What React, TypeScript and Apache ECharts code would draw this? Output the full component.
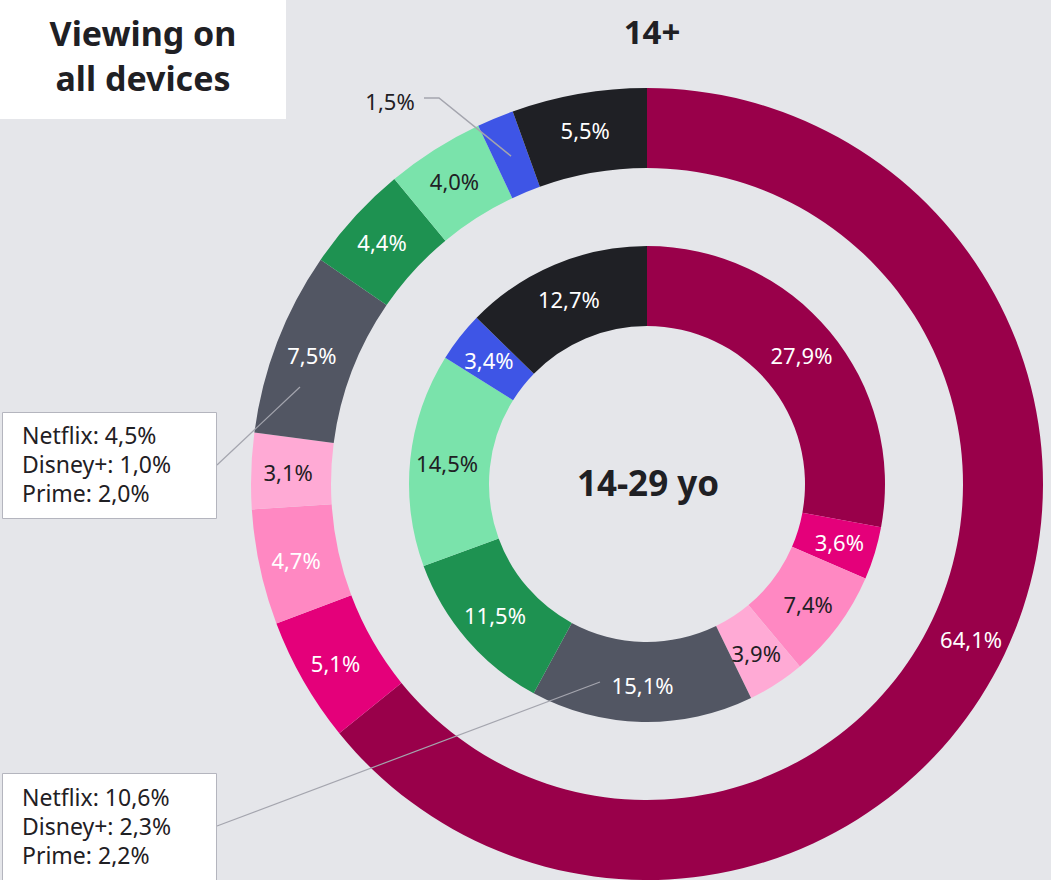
import React, { useEffect, useRef } from "react";
import * as echarts from "echarts";

const categories = ["Cat 1", "Cat 2", "Cat 3", "Cat 4", "Cat 5", "Cat 6", "Cat 7", "Cat 8", "Cat 9"];
const outerValues = [64.1, 5.1, 4.7, 3.1, 7.5, 4.4, 4.0, 1.5, 5.5];
const innerValues = [27.9, 3.6, 7.4, 3.9, 15.1, 11.5, 14.5, 3.4, 12.7];
const colors = ["#99004a", "#e4007a", "#ff88c2", "#ffaad5", "#525663", "#1e9251", "#7ae3ab", "#3e55e6", "#1f2025"];
const outerLabelDark = [false, false, false, true, false, false, true, true, false];
const innerLabelDark = [false, false, true, true, false, false, true, false, false];
const annotationOuter = ["Netflix: 4,5%", "Disney+: 1,0%", "Prime: 2,0%"];
const annotationInner = ["Netflix: 10,6%", "Disney+: 2,3%", "Prime: 2,2%"];
const titleLines = ["Viewing on", "all devices"];
const outerTitle = "14+";
const innerTitle = "14-29 yo";

const FONT = "'Noto Sans', 'Open Sans', sans-serif";
const DARK = "#1f2024";
const fmt = (v: number) => v.toFixed(1).replace(".", ",") + "%";

export default function App() {
  const ref = useRef<HTMLDivElement>(null);
  useEffect(() => {
    document.body.style.margin = "0";
    const chart = echarts.init(ref.current!, null, { renderer: "svg" });
    const cx = 647;
    const cy = 484;
    const mkData = (vals: number[], dark: boolean[], hideIdx: number) =>
      vals.map((v, i) => ({
        name: categories[i],
        value: v,
        itemStyle: { color: colors[i] },
        label: { show: i !== hideIdx, color: dark[i] ? DARK : "#ffffff" },
      }));

    // Leader line for small blue outer slice, computed from data
    const before = outerValues.slice(0, 7).reduce((a, b) => a + b, 0);
    const total = outerValues.reduce((a, b) => a + b, 0);
    const midAng = ((before + outerValues[7] / 2) / total) * 2 * Math.PI;
    const ex = cx + 355 * Math.sin(midAng);
    const ey = cy - 355 * Math.cos(midAng);

    const annoText = (lines: string[], x: number, y: number) =>
      lines.map((t, i) => ({
        type: "text",
        left: x,
        top: y + i * 29,
        z: 120,
        style: { text: t, font: `23px ${FONT}`, fill: DARK },
      }));

    chart.setOption({
      animation: false,
      backgroundColor: "#e5e6ea",
      title: [
        {
          text: outerTitle,
          left: cx,
          top: 10,
          textAlign: "center",
          textStyle: { fontFamily: FONT, fontWeight: "bold", fontSize: 33, color: DARK },
        },
        {
          text: innerTitle,
          left: cx - 4,
          top: cy - 24,
          textAlign: "center",
          textStyle: { fontFamily: FONT, fontWeight: "bold", fontSize: 35, color: DARK },
        },
      ],
      series: [
        {
          type: "pie",
          center: [cx, cy],
          radius: [316, 396],
          startAngle: 90,
          clockwise: true,
          silent: true,
          label: { position: "inside", fontFamily: FONT, fontSize: 22, formatter: (p: any) => fmt(p.value) },
          labelLine: { show: false },
          data: mkData(outerValues, outerLabelDark, 7),
        },
        {
          type: "pie",
          center: [cx, cy],
          radius: [158, 238],
          startAngle: 90,
          clockwise: true,
          silent: true,
          label: { position: "inside", fontFamily: FONT, fontSize: 22, formatter: (p: any) => fmt(p.value) },
          labelLine: { show: false },
          data: mkData(innerValues, innerLabelDark, -1),
        },
      ],
      graphic: [
        { type: "rect", z: 100, shape: { x: 0, y: 0, width: 286, height: 119 }, style: { fill: "#ffffff" } },
        {
          type: "text",
          x: 143,
          y: 33,
          z: 110,
          style: { text: titleLines[0], font: `bold 34px ${FONT}`, fill: DARK, align: "center", verticalAlign: "middle" },
        },
        {
          type: "text",
          x: 143,
          y: 78,
          z: 110,
          style: { text: titleLines[1], font: `bold 34px ${FONT}`, fill: DARK, align: "center", verticalAlign: "middle" },
        },
        {
          type: "text",
          x: 390,
          y: 101,
          z: 110,
          style: { text: fmt(outerValues[7]), font: `22px ${FONT}`, fill: DARK, align: "center", verticalAlign: "middle" },
        },
        {
          type: "polyline",
          z: 100,
          shape: { points: [[424, 98], [439, 98], [ex, ey]] },
          style: { stroke: "#a4a5ae", lineWidth: 1.5, fill: "none" },
        },
        {
          type: "line",
          z: 100,
          shape: { x1: 217, y1: 465, x2: 300, y2: 387 },
          style: { stroke: "#a4a5ae", lineWidth: 1.2 },
        },
        {
          type: "line",
          z: 100,
          shape: { x1: 217, y1: 826, x2: 600, y2: 682 },
          style: { stroke: "#a4a5ae", lineWidth: 1.2 },
        },
        {
          type: "rect",
          z: 105,
          shape: { x: 2.5, y: 412.5, width: 214, height: 106 },
          style: { fill: "#ffffff", stroke: "#b4b5be", lineWidth: 1 },
        },
        {
          type: "rect",
          z: 105,
          shape: { x: 2.5, y: 773.5, width: 214, height: 110 },
          style: { fill: "#ffffff", stroke: "#b4b5be", lineWidth: 1 },
        },
        ...annoText(annotationOuter, 22, 423),
        ...annoText(annotationInner, 22, 785),
      ],
    });
    return () => chart.dispose();
  }, []);
  return <div ref={ref} style={{ width: 1051, height: 880 }} />;
}
